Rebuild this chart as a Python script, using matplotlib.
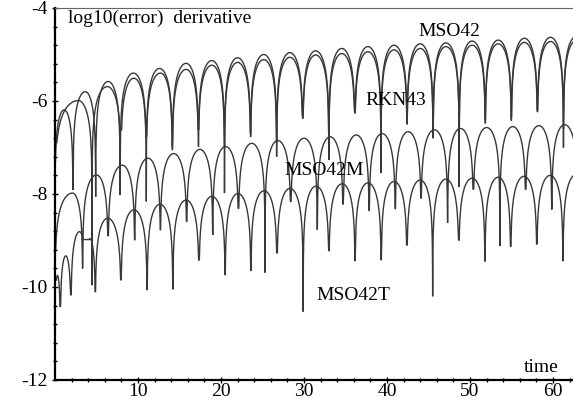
import numpy as np
import matplotlib
matplotlib.use("Agg")
import matplotlib.pyplot as plt

# values: each curve is a run of arches between dips
# dip times / dip depths (log10 error) and the peak time / peak value of each arch
mso42_dip_t = [0.0, 2.17, 4.9, 7.85, 11.0, 14.14, 17.28, 20.42, 23.56, 26.7, 29.85,
               32.99, 36.13, 39.27, 42.41, 45.55, 48.69, 51.84, 54.98, 58.12, 61.26, 64.4]
mso42_dip_v = [-7.3, -7.91, -8.06, -8.02, -8.16, -7.05, -6.98, -7.98, -6.77, -7.2, -6.37,
               -7.27, -6.26, -7.55, -6.5, -6.8, -7.85, -6.48, -6.42, -6.23, -7.0, -6.5]
mso42_peak_t = [1.1, 3.65, 6.4, 9.45, 12.6, 15.8, 18.9, 22.0, 25.15, 28.3, 31.4,
                34.55, 37.7, 40.85, 44.0, 47.1, 50.25, 53.4, 56.55, 59.7, 62.8]
mso42_peak_v = [-6.19, -5.80, -5.58, -5.40, -5.30, -5.19, -5.13, -5.07, -5.00, -4.96, -4.92,
                -4.87, -4.83, -4.80, -4.77, -4.75, -4.71, -4.69, -4.65, -4.63, -4.61]

rkn43_dip_t = [0.0, 4.46, 7.95, 11.0, 14.14, 17.28, 20.42, 23.56, 26.7, 29.85, 32.99,
               36.13, 39.27, 42.41, 45.55, 48.69, 51.84, 54.98, 58.12, 61.26, 64.4]
rkn43_dip_v = [-6.9, -9.96, -6.62, -6.77, -6.98, -6.62, -7.0, -6.7, -6.9, -6.3, -6.9,
               -6.2, -6.9, -6.45, -6.7, -6.9, -6.4, -6.35, -6.2, -6.6, -6.4]
rkn43_peak_t = [2.8, 6.3, 9.5, 12.7, 15.8, 18.9, 22.0, 25.15, 28.3, 31.4,
                34.55, 37.7, 40.85, 44.0, 47.1, 50.25, 53.4, 56.55, 59.7, 62.8]
rkn43_peak_v = [-5.99, -5.69, -5.51, -5.40, -5.32, -5.23, -5.17, -5.11, -5.06, -5.01,
                -4.98, -4.94, -4.90, -4.87, -4.83, -4.80, -4.77, -4.74, -4.72, -4.70]

mso42m_dip_t = [0.0, 3.33, 6.4, 9.6, 12.7, 15.86, 19.0, 22.1, 25.3, 28.4, 31.6,
                34.7, 37.85, 41.0, 44.1, 47.3, 50.4, 53.6, 56.7, 59.85, 63.0]
mso42m_dip_v = [-9.2, -9.6, -8.9, -8.99, -8.77, -8.59, -8.88, -8.31, -9.69, -8.16, -8.77,
                -8.22, -8.36, -8.32, -8.09, -8.62, -7.9, -9.12, -7.9, -8.33, -8.3]
mso42m_peak_t = [2.1, 5.0, 8.1, 11.2, 14.3, 17.45, 20.55, 23.7, 26.85, 30.0,
                 33.15, 36.3, 39.4, 42.55, 45.7, 48.85, 52.0, 55.15, 58.3, 61.4]
mso42m_peak_v = [-7.98, -7.59, -7.38, -7.23, -7.13, -7.04, -6.98, -6.91, -6.85, -6.80,
                 -6.77, -6.73, -6.70, -6.66, -6.62, -6.59, -6.57, -6.55, -6.53, -6.51]

mso42t_dip_t = [0.0, 0.64, 1.93, 3.8, 4.86, 7.95, 11.1, 14.2, 17.35, 20.5, 23.6, 26.75,
                29.9, 33.0, 36.15, 39.3, 42.4, 45.5, 48.65, 51.8, 54.9, 58.05, 61.2, 64.4]
mso42t_dip_v = [-9.85, -10.42, -10.17, -8.98, -10.1, -9.85, -10.06, -10.05, -9.42, -9.74,
                -9.65, -9.27, -10.53, -9.22, -9.44, -9.42, -9.1, -10.2, -8.99, -9.45,
                -9.13, -9.08, -9.44, -9.2]
mso42t_peak_t = [0.3, 1.3, 2.95, 4.2, 6.35, 9.5, 12.65, 15.8, 18.9, 22.05, 25.2, 28.3,
                 31.45, 34.6, 37.7, 40.85, 44.0, 47.1, 50.25, 53.4, 56.5, 59.65, 62.8]
mso42t_peak_v = [-9.75, -9.33, -8.81, -8.96, -8.52, -8.34, -8.22, -8.13, -8.05, -7.99,
                 -7.93, -7.88, -7.83, -7.78, -7.76, -7.73, -7.70, -7.68, -7.66, -7.64,
                 -7.62, -7.60, -7.58]

curve_names = ["MSO42", "RKN43", "MSO42M", "MSO42T"]
label_t = [47.5, 41.0, 32.4, 35.9]
label_v = [-4.51, -6.0, -7.5, -10.19]

LINE = "#383838"
SERIF = ["Liberation Serif", "DejaVu Serif"]
FS = 14


def arches(dip_t, dip_v, peak_t, peak_v, n=240):
    """Join |sin|-shaped arches (on the log scale) between consecutive dips."""
    ts, ys = [], []
    for i in range(len(peak_t)):
        a, b, tp, pv = dip_t[i], dip_t[i + 1], peak_t[i], peak_v[i]
        t = np.linspace(a, b, n)
        u = np.where(t < tp, 0.5 * (t - a) / (tp - a), 0.5 + 0.5 * (t - tp) / (b - tp))
        y = pv + np.log10(np.abs(np.sin(np.pi * u)) + 1e-300)
        floor = np.where(t < tp, dip_v[i], dip_v[i + 1])
        y = np.maximum(y, floor)
        if i:
            t, y = t[1:], y[1:]
        ts.append(t)
        ys.append(y)
    return np.concatenate(ts), np.concatenate(ys)


plt.rcParams["axes.unicode_minus"] = False

fig = plt.figure(figsize=(5.73, 4.0), dpi=100)
ax = fig.add_axes([55 / 573, 20 / 400, 521.5 / 573, 372 / 400])

series = [
    (mso42_dip_t, mso42_dip_v, mso42_peak_t, mso42_peak_v),
    (rkn43_dip_t, rkn43_dip_v, rkn43_peak_t, rkn43_peak_v),
    (mso42m_dip_t, mso42m_dip_v, mso42m_peak_t, mso42m_peak_v),
    (mso42t_dip_t, mso42t_dip_v, mso42t_peak_t, mso42t_peak_v),
]
for dt, dv, pt, pv in series:
    t, y = arches(dt, dv, pt, pv)
    ax.plot(t, y, color=LINE, lw=1.0, solid_joinstyle="miter")

for name, tx, vy in zip(curve_names, label_t, label_v):
    ax.text(tx, vy, name, family=SERIF, fontsize=FS, ha="center", va="center")

ax.text(1.6, -4.22, "log10(error)  derivative", family=SERIF, fontsize=FS,
        ha="left", va="center")
ax.text(58.6, -11.74, "time", family=SERIF, fontsize=FS, ha="center", va="center")

ax.set_xlim(0, 62.83)
ax.set_ylim(-12, -4)
ax.set_xticks([10, 20, 30, 40, 50, 60])
ax.set_xticks(np.arange(2, 63, 2), minor=True)
ax.set_yticks([-12, -10, -8, -6, -4])
ax.set_yticks(np.arange(-12, -4, 0.4), minor=True)
for lab in ax.get_xticklabels() + ax.get_yticklabels():
    lab.set_family(SERIF)
    lab.set_fontsize(FS)
ax.tick_params(which="major", direction="inout", length=4.5, width=1.0)
ax.tick_params(which="minor", direction="inout", length=2.6, width=1.0)
ax.tick_params(axis="x", which="major", pad=0)
ax.tick_params(axis="y", which="major", pad=3)

ax.spines["left"].set_linewidth(1.6)
ax.spines["bottom"].set_linewidth(1.6)
ax.spines["top"].set_linewidth(0.8)
ax.spines["top"].set_color("#666666")
ax.spines["right"].set_visible(False)

fig.savefig("out.png", dpi=100)
